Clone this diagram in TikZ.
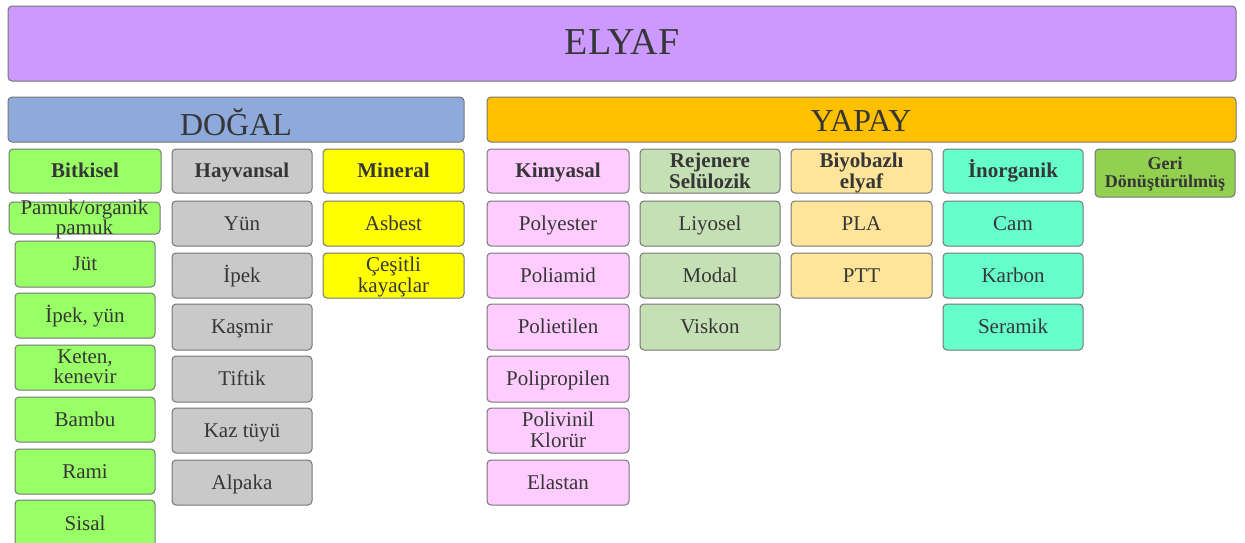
\documentclass[tikz,border=0pt]{standalone}
\usepackage{fontspec}
\setmainfont{Liberation Serif}

\definecolor{txtgray}{HTML}{363636}
\definecolor{edgegray}{HTML}{767676}
\definecolor{cElyaf}{HTML}{CC99FF}
\definecolor{cDogal}{HTML}{8EAADB}
\definecolor{cYapay}{HTML}{FFC000}
\definecolor{cBitki}{HTML}{99FF66}
\definecolor{cHayvan}{HTML}{C9C9C9}
\definecolor{cMineral}{HTML}{FFFF00}
\definecolor{cKimya}{HTML}{FFCCFF}
\definecolor{cRejen}{HTML}{C5E0B4}
\definecolor{cBiyo}{HTML}{FFE599}
\definecolor{cInorg}{HTML}{66FFCC}
\definecolor{cGeri}{HTML}{92D050}

% two centred lines set as a \vtop, baseline on the first line
\newcommand\twolines[3][21pt]{\vtop{\baselineskip=#1\lineskiplimit=-100pt
  \halign{\hfil##\hfil\cr#2\cr#3\cr}}}

\tikzset{
  cellbox/.style={draw=edgegray, line width=1pt, rounded corners=4pt,
    inner sep=0pt, outer sep=0pt},
  celltext/.style={inner sep=0pt, text=txtgray},
  one/.style={celltext, font=\fontsize{21}{21}\selectfont,
    text height=13.8pt, text depth=0pt},
  two/.style={celltext, font=\fontsize{21}{21}\selectfont,
    text height=13.8pt, text depth=21pt},
  bone/.style={one, font=\fontsize{21}{21}\selectfont\bfseries},
  btwo/.style={two, font=\fontsize{21}{21}\selectfont\bfseries},
  bsmall/.style={celltext, font=\fontsize{18}{18}\selectfont\bfseries,
    text height=11.8pt, text depth=18pt},
  bigtext/.style={celltext, anchor=base},
}

% name, x1, y1, x2, y2, fill, text style, text
\newcommand\cell[8]{%
  \node[cellbox, fill=#6, minimum width={#4-#2}, minimum height={#5-#3}]
    (#1) at ({(#2+#4)/2},{(#3+#5)/2}) {};
  \node[#7] (#1-t) at (#1.center) {#8};}

\begin{document}
\begin{tikzpicture}[x=1pt, y=-1pt]
\useasboundingbox (0,0) rectangle (1245,542);
\clip (0,0) rectangle (1245,542);

% top level
\cell{elyaf}{8}{6}{1236}{81}{cElyaf}{celltext}{}
\node[bigtext, font=\fontsize{38}{38}\selectfont] (elyaf-title) at (622,54) {ELYAF};

\cell{dogal}{8}{97}{464}{142}{cDogal}{celltext}{}
\node[bigtext, font=\fontsize{32}{32}\selectfont] (dogal-title) at (236,135) {DOĞAL};

\cell{yapay}{487}{97}{1236}{142}{cYapay}{celltext}{}
\node[bigtext, font=\fontsize{32}{32}\selectfont] (yapay-title) at (861,131) {YAPAY};

% group headings
\cell{bitki}{9}{149}{161}{193}{cBitki}{bone}{Bitkisel}
\cell{hayvan}{172}{149}{312}{193}{cHayvan}{bone}{Hayvansal}
\cell{mineral}{323}{149}{464}{193}{cMineral}{bone}{Mineral}
\cell{kimya}{487}{149}{629}{193}{cKimya}{bone}{Kimyasal}
\cell{rejen}{640}{149}{780}{193}{cRejen}{btwo}{\twolines{Rejenere}{Selülozik}}
\cell{biyo}{791}{149}{932}{193}{cBiyo}{btwo}{\twolines{Biyobazlı}{elyaf}}
\cell{inorg}{943}{149}{1083}{193}{cInorg}{bone}{İnorganik}
\cell{geri}{1095}{149}{1235}{197}{cGeri}{bsmall}{\twolines[18pt]{Geri}{Dönüştürülmüş}}

% plant fibres
\cell{b1}{9}{202}{160}{234}{cBitki}{two}{\twolines[20pt]{Pamuk/organik}{pamuk}}
\cell{b2}{15}{241}{155}{287}{cBitki}{one}{Jüt}
\cell{b3}{15}{293}{155}{338}{cBitki}{one}{İpek, yün}
\cell{b4}{15}{345}{155}{390}{cBitki}{two}{\twolines[20pt]{Keten,}{kenevir}}
\cell{b5}{15}{397}{155}{442}{cBitki}{one}{Bambu}
\cell{b6}{15}{449}{155}{494}{cBitki}{one}{Rami}
\cell{b7}{15}{500}{155}{548}{cBitki}{one}{Sisal}

% animal fibres
\cell{h1}{172}{201}{312}{246}{cHayvan}{one}{Yün}
\cell{h2}{172}{253}{312}{298}{cHayvan}{one}{İpek}
\cell{h3}{172}{304}{312}{350}{cHayvan}{one}{Kaşmir}
\cell{h4}{172}{356}{312}{402}{cHayvan}{one}{Tiftik}
\cell{h5}{172}{408}{312}{453}{cHayvan}{one}{Kaz tüyü}
\cell{h6}{172}{460}{312}{505}{cHayvan}{one}{Alpaka}

% mineral fibres
\cell{m1}{323}{201}{464}{246}{cMineral}{one}{Asbest}
\cell{m2}{323}{253}{464}{298}{cMineral}{two}{\twolines{Çeşitli}{kayaçlar}}

% synthetic polymers
\cell{k1}{487}{201}{629}{246}{cKimya}{one}{Polyester}
\cell{k2}{487}{253}{629}{298}{cKimya}{one}{Poliamid}
\cell{k3}{487}{304}{629}{350}{cKimya}{one}{Polietilen}
\cell{k4}{487}{356}{629}{402}{cKimya}{one}{Polipropilen}
\cell{k5}{487}{408}{629}{453}{cKimya}{two}{\twolines{Polivinil}{Klorür}}
\cell{k6}{487}{460}{629}{505}{cKimya}{one}{Elastan}

% regenerated cellulose
\cell{r1}{640}{201}{780}{246}{cRejen}{one}{Liyosel}
\cell{r2}{640}{253}{780}{298}{cRejen}{one}{Modal}
\cell{r3}{640}{304}{780}{350}{cRejen}{one}{Viskon}

% bio-based
\cell{y1}{791}{201}{932}{246}{cBiyo}{one}{PLA}
\cell{y2}{791}{253}{932}{298}{cBiyo}{one}{PTT}

% inorganic
\cell{i1}{943}{201}{1083}{246}{cInorg}{one}{Cam}
\cell{i2}{943}{253}{1083}{298}{cInorg}{one}{Karbon}
\cell{i3}{943}{304}{1083}{350}{cInorg}{one}{Seramik}
\end{tikzpicture}
\end{document}
